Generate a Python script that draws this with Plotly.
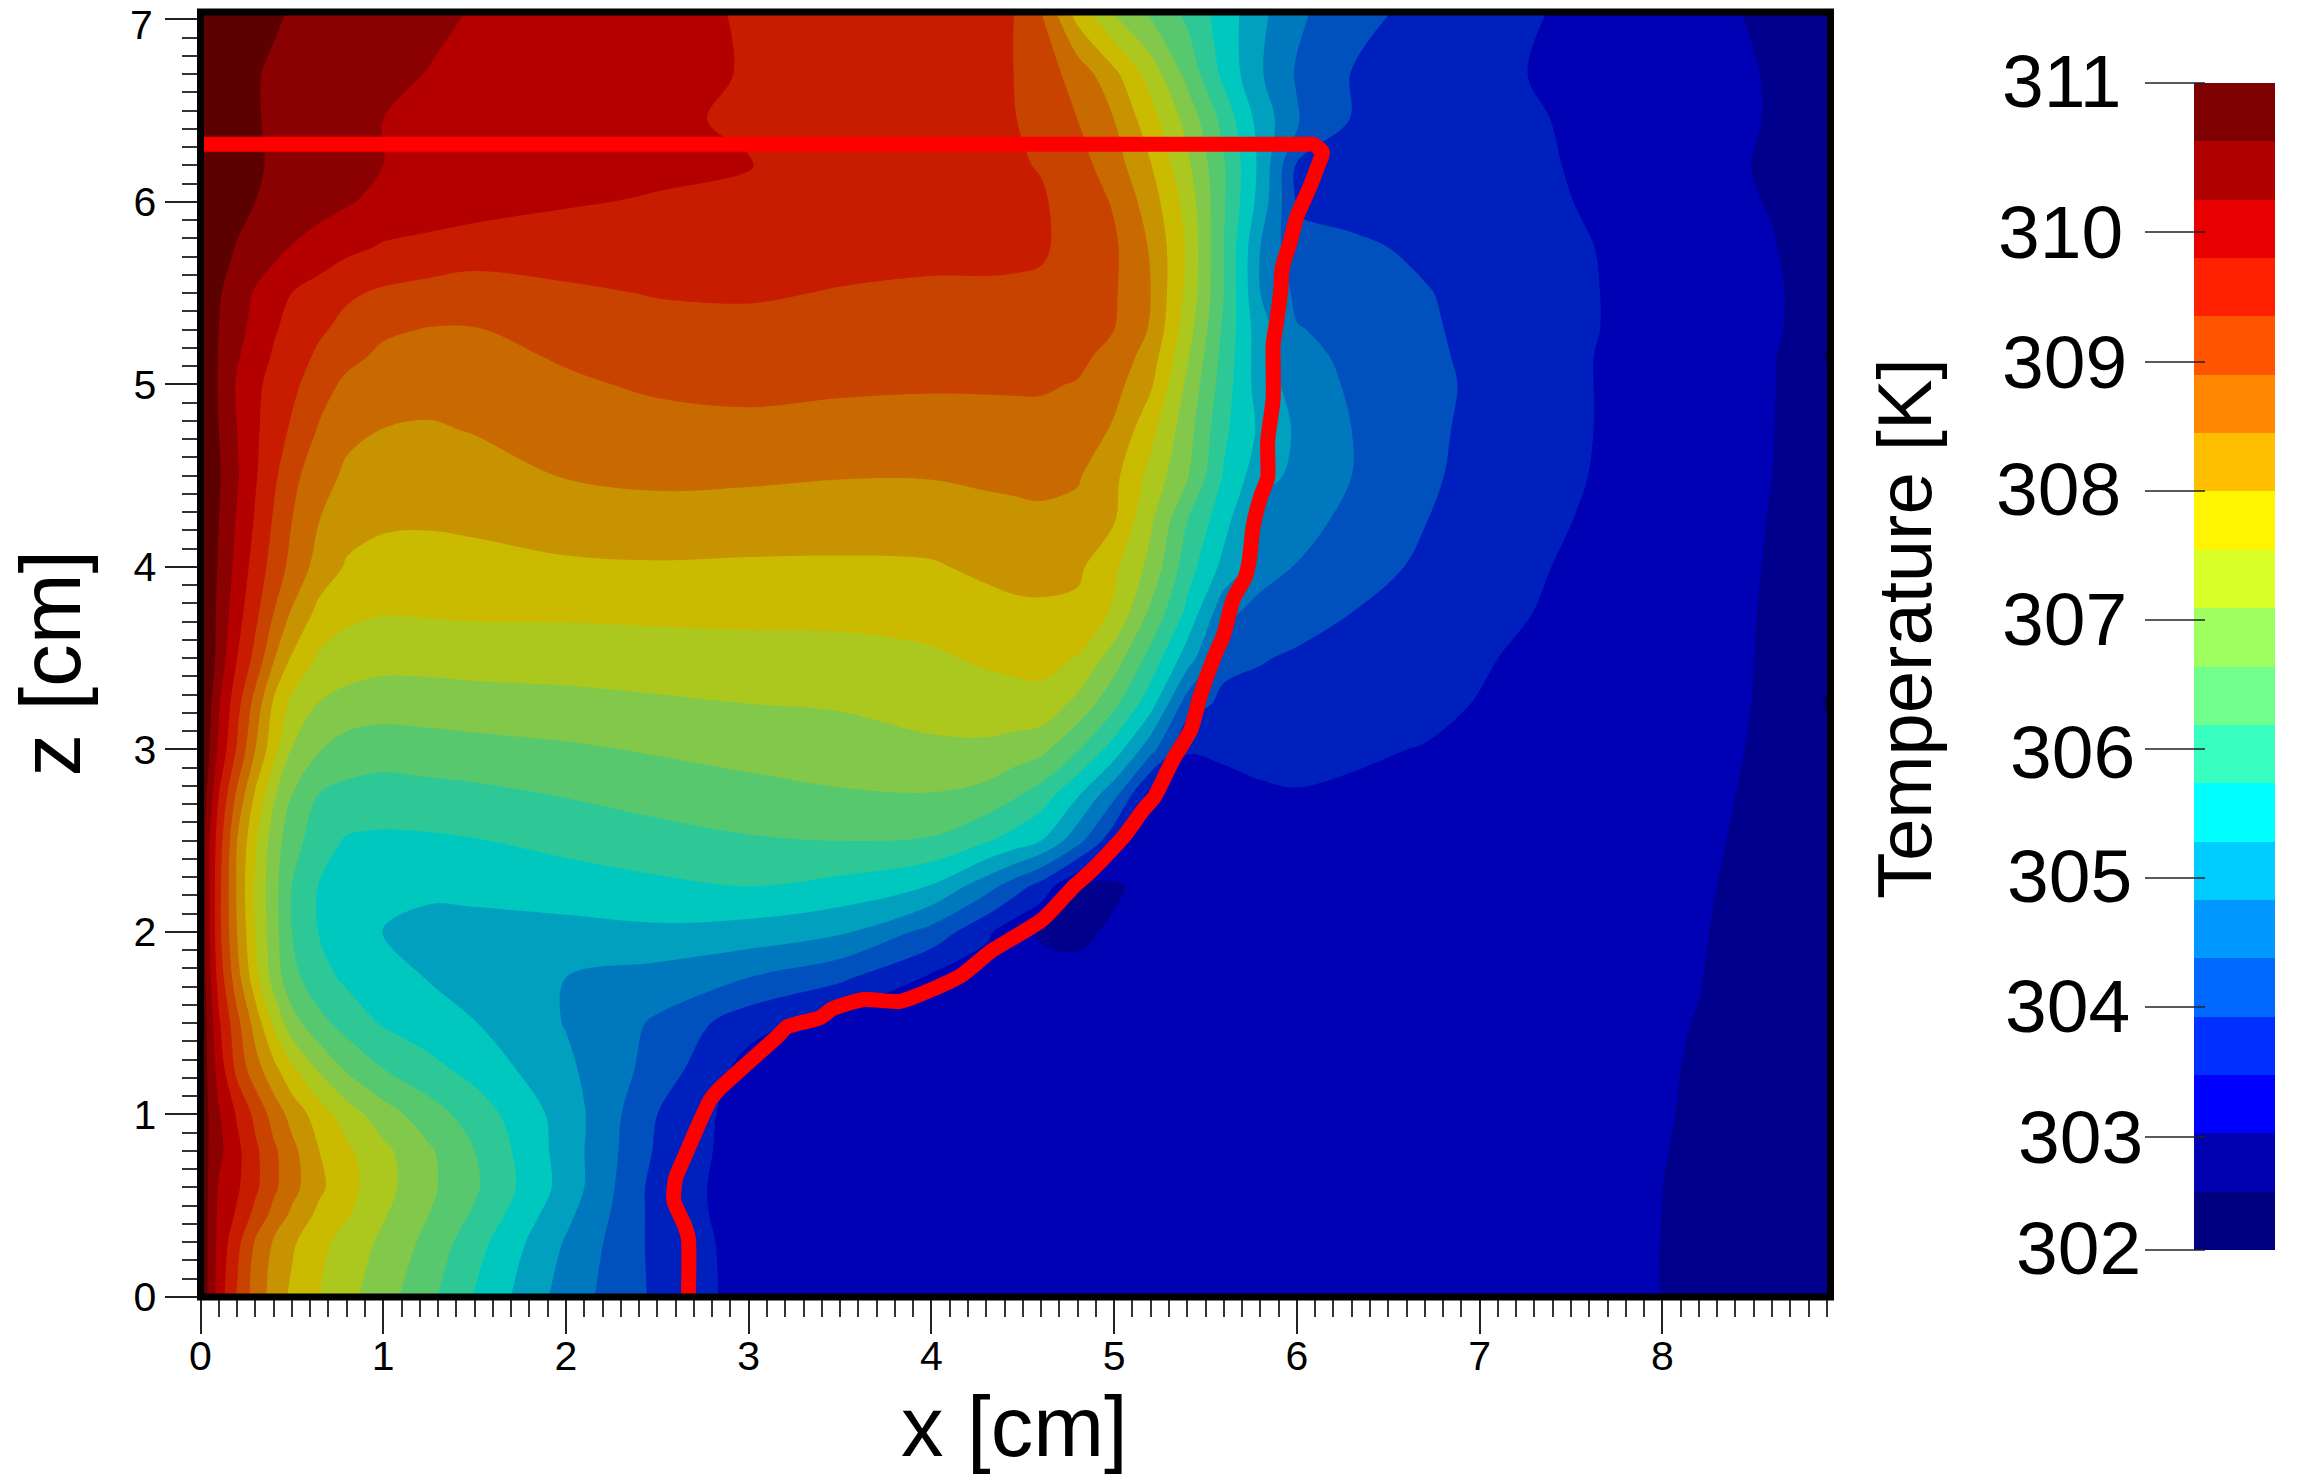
import numpy as np
import plotly.graph_objects as go

# grid positions (cm)
x_cm = [0, .05, .1, .2, .3, .4, .5, .65, .8, 1, 1.25, 1.5, 2, 2.5, 3, 3.5, 4, 4.3, 4.45, 4.6, 4.8, 5, 5.2, 5.4, 5.6, 5.8, 6, 6.3, 6.7, 7.2, 7.7, 8.2, 8.6, 8.92]
z_cm = [0, .3, .45, .6, .8, 1, 1.25, 1.5, 1.75, 2, 2.25, 2.5, 2.75, 3, 3.25, 3.5, 3.75, 4, 4.25, 4.5, 4.75, 5, 5.15, 5.3, 5.5, 5.75, 6, 6.2, 6.45, 6.7, 7.04]

# temperature, in colour-band units (1 unit = 0.45 K above 302 K), one row per z
r00 = [19.9,18.7,17.55,15.9,14.6,13.6,12.8,12.0,11.3,10.4,9.25,7.95,5.55,3.8,2.6,2.55,2.5,2.5,2.45,2.45,2.45,2.4,2.4,2.4,2.35,2.35,2.3,2.3,2.25,2.2,2.2,1.85,1.55,1.3]
r01 = [19.9,18.75,17.7,16.3,14.9,13.9,13.15,12.3,11.6,10.8,9.7,8.4,5.9,3.7,2.6,2.55,2.5,2.5,2.45,2.45,2.45,2.4,2.4,2.4,2.35,2.35,2.3,2.3,2.25,2.25,2.2,1.85,1.55,1.3]
r01b = [19.9,18.75,17.8,16.85,15.7,14.7,13.8,12.75,12.1,11.1,10,8.85,6.25,3.65,2.5,2.5,2.5,2.5,2.45,2.45,2.45,2.4,2.4,2.4,2.35,2.35,2.3,2.3,2.25,2.25,2.2,1.86,1.55,1.3]
r02 = [19.9,18.8,17.9,17.15,16.2,15.2,14.35,13.2,12.35,11.35,10.2,9.15,6.6,3.6,2.5,2.5,2.5,2.5,2.45,2.45,2.45,2.4,2.4,2.4,2.35,2.35,2.3,2.3,2.25,2.25,2.2,1.87,1.55,1.3]
r02b = [19.9,18.85,18.25,17.25,16.2,15.2,14.3,13,12.2,11.25,10.15,9,6.55,3.85,2.45,2.5,2.5,2.5,2.45,2.45,2.45,2.4,2.4,2.4,2.35,2.35,2.3,2.3,2.25,2.25,2.2,1.9,1.58,1.3]
r03 = [19.9,18.85,18.1,16.9,15.75,14.6,13.65,12.5,11.5,10.45,9.45,8.55,6.55,4.0,2.45,2.5,2.5,2.5,2.45,2.45,2.45,2.4,2.4,2.4,2.35,2.35,2.3,2.3,2.25,2.25,2.2,1.93,1.6,1.3]
r04 = [19.9,18.65,17.6,15.7,14.4,13.3,12.2,10.85,9.85,9.0,8.3,7.65,6.2,4.6,2.6,2.5,2.5,2.5,2.45,2.45,2.45,2.4,2.4,2.4,2.35,2.35,2.3,2.3,2.25,2.25,2.2,1.95,1.6,1.3]
r05 = [19.9,18.55,17.15,15.3,13.6,11.85,10.4,9.3,8.6,7.9,7.45,7.03,5.95,4.85,3.4,2.5,2.5,2.5,2.45,2.45,2.45,2.4,2.4,2.4,2.35,2.35,2.3,2.3,2.3,2.25,2.2,1.98,1.65,1.3]
r06 = [19.9,18.2,16.6,14.4,12.4,10.6,9.3,8.35,7.8,7.4,6.95,6.6,6.0,5.6,5.0,4.2,2.85,2.4,2.35,2.3,2.25,2.2,2.25,2.3,2.35,2.35,2.3,2.3,2.3,2.25,2.2,2.02,1.65,1.3]
r07 = [19.9,18,16.3,14,12,10.4,9,7.95,7.5,6.95,6.7,6.7,6.7,6.8,6.6,6.15,4.65,3.2,2.4,1.9,1.8,2.15,2.3,2.4,2.4,2.4,2.4,2.35,2.3,2.25,2.2,2.05,1.7,1.3]
r08 = [19.9,18,16.3,13.9,11.85,10.35,9,7.95,7.6,7.35,7.2,7.25,7.5,7.8,8,7.7,6.95,5.4,4.5,3.6,1.95,1.85,2.35,2.4,2.45,2.5,2.5,2.45,2.4,2.3,2.2,2.08,1.75,1.35]
r09 = [19.9,18,16.5,14,12.15,10.5,9.4,8.45,7.9,7.82,7.85,7.95,8.3,8.6,8.9,9,8.9,8.1,7.6,7.0,5.35,3.3,2.4,2.5,2.5,2.6,2.6,2.55,2.45,2.3,2.2,2.12,1.8,1.35]
r10 = [19.9,18.5,17,14.8,12.85,11.15,10,8.95,8.7,8.55,8.65,8.75,9.05,9.4,9.65,9.9,9.95,9.65,9.15,8.55,7.1,5.25,2.6,2.6,2.7,2.9,2.95,2.85,2.65,2.4,2.25,2.15,1.85,1.35]
r11 = [19.9,19,17.8,15.9,14,12.35,10.95,10.05,9.6,9.45,9.55,9.65,9.85,10.1,10.35,10.5,10.8,10.8,10.55,10.25,9.1,7.55,5.35,3.05,3.15,3.2,3.25,3.15,2.95,2.55,2.25,2.2,1.88,1.4]
r12 = [19.9,19.2,18.1,16.35,14.6,12.85,11.75,10.95,10.6,10.45,10.5,10.6,10.7,10.85,11,11.1,11.4,11.55,11.7,11.75,10.7,9.25,7.4,4.5,3.75,3.75,3.75,3.6,3.3,2.7,2.3,2.2,1.92,.85]
r13 = [19.9,19.6,18.6,17,15.7,14.1,12.9,11.85,11.6,11.35,11.35,11.4,11.45,11.55,11.6,11.65,11.85,12.15,12.2,12.25,11.95,10.5,8.65,6.5,4.3,4.05,3.9,3.75,3.4,2.9,2.4,2.25,1.92,1.35]
r13b = [19.9,19.5,18.75,17.4,16.25,15,13.9,12.7,12.2,12.05,12.1,12.15,12.15,12.2,12.25,12.25,12.4,12.65,12.8,12.85,12.75,11.85,9.8,7.75,5.3,4.6,4.3,4.0,3.6,3.1,2.55,2.27,1.93,1.4]
r14 = [19.9,19.5,18.9,17.7,16.6,15.6,14.7,13.6,12.9,12.6,12.6,12.65,12.85,12.9,12.85,12.85,12.9,13.2,13.3,13.3,13.2,12.2,10.7,8.45,6.7,5.5,4.95,4.45,3.82,3.25,2.6,2.3,1.95,1.4]
r14b = [19.9,19.5,19,17.9,16.9,15.9,15,14,13.35,13.15,13.1,13.2,13.45,13.6,13.55,13.45,13.5,13.7,13.75,13.8,13.7,13.05,11.15,9,7.35,5.5,5.35,4.75,4.02,3.4,2.75,2.33,1.97,1.45]
r15 = [19.9,19.6,19.1,18.1,17.1,16.2,15.3,14.35,13.85,13.55,13.5,13.6,14.05,14.2,14.15,14.05,14.05,14.15,14.2,14.25,14.1,13.25,11.7,10.1,7.9,6.4,5.75,5,4.12,3.55,2.85,2.35,2,1.5]
r15b = [19.9,19.5,19,18,17.15,16.5,15.85,14.9,14.2,13.98,13.9,14.05,14.45,14.65,14.75,14.65,14.6,14.65,14.7,14.7,14.7,13.85,12.3,10.4,8.2,6.8,5.85,5,4.18,3.55,2.9,2.4,2.02,1.5]
r16 = [19.9,19.5,18.9,17.9,17.2,16.7,16.25,15.4,14.8,14.45,14.35,14.45,14.85,15.15,15.25,15.15,15.1,15.1,15.1,15.1,14.95,14.35,13.15,10.8,8.5,6.5,5.6,4.85,4.25,3.55,2.9,2.55,2.05,1.35]
r17 = [19.9,19.5,18.95,18.1,17.45,16.9,16.5,15.8,15.25,14.8,14.65,14.7,15.1,15.4,15.5,15.4,15.3,15.3,15.3,15.3,15.2,14.7,13.5,11.1,8.65,6.45,5.3,4.8,4.18,3.55,2.9,2.55,2.1,.85]
r18 = [19.9,19.5,19,18.3,17.7,17.1,16.7,16.15,15.7,15.15,14.95,14.95,15.4,15.7,15.75,15.65,15.55,15.55,15.55,15.55,15.5,15,13.9,11.45,8.8,6.4,5.05,4.75,4.12,3.55,2.95,2.55,2.15,1.35]
r19 = [19.9,19.5,19.1,18.5,17.9,17.45,17,16.6,16.15,15.85,15.65,15.55,15.85,16.05,16.1,15.95,15.85,15.85,15.85,15.85,15.75,15.1,14,11.75,9,6,4.8,4.5,4.05,3.55,2.95,2.5,2.15,1.45]
r20 = [19.9,19.7,19.35,18.95,18.6,18.3,17.95,17.6,17.25,16.9,16.7,16.48,16.45,16.45,16.4,16.3,16.25,16.25,16.2,16.1,15.7,15.15,13.9,11.85,9,6,4.25,4.15,3.85,3.3,2.95,2.45,2.05,1.5]
r21 = [19.9,19.8,19.6,19.25,19,18.8,18.6,18.35,18.1,17.7,17.6,17.45,17.1,16.9,16.8,16.6,16.5,16.4,16.3,16.1,15.6,14.9,13.5,11.6,9.1,6.6,3.9,3.7,3.55,3.25,2.85,2.3,1.95,1.5]
r22 = [19.9,19.85,19.7,19.4,19.1,18.9,18.75,18.5,18.3,18,17.9,17.75,17.5,17.25,17.03,16.7,16.4,16.25,16.1,15.95,15.4,14.45,13.05,11.2,9.1,6.75,3.9,3.75,3.5,3.2,2.8,2.25,1.9,1.55]
r23 = [19.9,19.85,19.7,19.35,19.05,18.9,18.75,18.5,18.3,18,17.85,17.7,17.35,17.12,16.9,16.55,16.35,16.2,16.05,15.62,15,14,12.4,10.65,8.65,6.6,5.1,3.95,3.6,3.15,2.75,2.3,1.95,1.55]
r24 = [19.9,19.85,19.7,19.4,19.05,18.9,18.8,18.6,18.45,18.2,17.97,17.85,17.6,17.25,16.95,16.65,16.35,16.15,16,15.5,14.6,13.25,11.55,9.7,7.75,6.1,4.9,3.97,3.55,3.05,2.65,2.25,1.95,1.5]
r25 = [19.9,19.9,19.8,19.55,19.3,19.1,18.95,18.8,18.65,18.45,18.2,17.95,17.6,17.25,16.92,16.65,16.35,16.15,16,15,12.55,10.85,9.8,8.75,7.55,6.25,5.2,4.35,3.7,3.15,2.7,2.2,1.85,1.4]

# red interface line
line_x = [0.0, 3.0, 5.6, 6.03, 6.09, 6.14, 6.12, 6.07, 6.0, 5.96, 5.92, 5.91, 5.89, 5.87, 5.87, 5.87, 5.84, 5.84, 5.8, 5.76, 5.74, 5.72, 5.65, 5.6, 5.54, 5.47, 5.42, 5.32, 5.22, 5.16, 5.05, 4.88, 4.78, 4.61, 4.32, 4.16, 3.83, 3.63, 3.46, 3.39, 3.21, 3.16, 2.85, 2.79, 2.65, 2.6, 2.59, 2.65, 2.67, 2.67]
line_z = [6.315, 6.315, 6.315, 6.315, 6.315, 6.27, 6.21, 6.08, 5.92, 5.77, 5.64, 5.5, 5.35, 5.22, 5.1, 4.92, 4.69, 4.49, 4.38, 4.22, 4.04, 3.95, 3.82, 3.63, 3.49, 3.29, 3.11, 2.94, 2.74, 2.67, 2.52, 2.34, 2.25, 2.07, 1.89, 1.76, 1.62, 1.63, 1.58, 1.53, 1.48, 1.43, 1.15, 1.08, .77, .65, .53, .39, .32, 0]

# colours: field (dimmed) and colour bar (bright), coldest band first
field_colors = ["#000064", "#00008C", "#0000B4", "#0020BE", "#0050BE", "#0078BE", "#00A0BE", "#00C8BE", "#2EC896", "#58C86E",
                "#82C84B", "#ACC81E", "#CBBB00", "#C89300", "#C86A00", "#C84200", "#C81C00", "#B50000", "#8B0000", "#5C0000"]
bar_colors = ["#000080", "#0000B0", "#0000FF", "#0030FF", "#0068FF", "#0098FF", "#00CCFF", "#00FFFF", "#38FFC0", "#70FF8C",
              "#A0FF60", "#D8FF28", "#FFF500", "#FFBF00", "#FF8800", "#FF5500", "#FF2000", "#E80000", "#B00000", "#7F0000"]
bar_labels = ["311", "310", "309", "308", "307", "306", "305", "304", "303", "302"]
label_px_x = [2062, 2060, 2064, 2058, 2064, 2072, 2069, 2067, 2080, 2078]
label_px_y = [81, 232, 362, 489, 619, 752, 876, 1006, 1137, 1248]
tick_px_y = [83, 232, 362, 491, 620, 749, 878, 1007, 1137, 1250]
z_tick_vals = [0, 1, 2, 3, 4, 5, 6, 7]
z_tick_text = ["0", "1", "2", "3", "4", "5", "6", ""]

W, H = 2298, 1475
def px(v): return v / W
def py(v): return 1 - v / H

def stepped(colors):
    n = len(colors)
    out = []
    for i, c in enumerate(colors):
        out += [[i / n, c], [(i + 1) / n, c]]
    return out

rows = [r00, r01, r01b, r02, r02b, r03, r04, r05, r06, r07, r08, r09, r10, r11, r12, r13, r13b, r14, r14b, r15, r15b,
        r16, r17, r18, r19, r20, r21, r22, r23, r24, r25]
temperature = 302 + 0.45 * np.array(rows)
bar_edges = [302 + 0.45 * i for i in range(21)]
bar_z = [[302 + 0.45 * (i + 0.5)] for i in range(20)]

fig = go.Figure()
fig.add_trace(go.Contour(
    x=x_cm, y=z_cm, z=temperature, zmin=302, zmax=311, autocontour=False,
    contours=dict(start=302.45, end=310.56, size=0.45, coloring="fill", showlines=False),
    colorscale=stepped(field_colors), showscale=False, hoverinfo="skip",
    line=dict(width=0, smoothing=1.0),
))
fig.add_trace(go.Scatter(
    x=line_x, y=line_z, mode="lines", hoverinfo="skip", showlegend=False,
    line=dict(color="#FF0000", width=15, shape="spline", smoothing=0.6),
))
fig.add_trace(go.Heatmap(
    x=[0, 1], y=bar_edges, z=bar_z, xaxis="x2", yaxis="y2", zmin=302, zmax=311,
    colorscale=stepped(bar_colors), showscale=False, hoverinfo="skip",
))

big = "Liberation Sans, Arial, sans-serif"
tick_font = dict(family=big, size=41, color="black")
fig.update_layout(
    width=W, height=H, autosize=False, margin=dict(l=0, r=0, t=0, b=0, autoexpand=False),
    paper_bgcolor="white", plot_bgcolor="white", showlegend=False,
    xaxis=dict(domain=[px(200.5), px(1830.5)], range=[0, 8.92], tick0=0, dtick=1, ticks="outside",
               ticklen=36, tickwidth=2, tickcolor="#222", tickfont=tick_font, showgrid=False, zeroline=False,
               showline=False, anchor="y", ticklabelstandoff=-13, ticklabeloverflow="allow",
               minor=dict(dtick=0.1, tick0=0, ticks="outside", ticklen=19, tickwidth=1.5, tickcolor="#333", showgrid=False)),
    yaxis=dict(domain=[py(1297), py(12)], range=[0, 7.04], tickmode="array", tickvals=z_tick_vals, ticktext=z_tick_text,
               ticks="outside", ticklen=35, tickwidth=2, tickcolor="#222", tickfont=tick_font, showgrid=False,
               zeroline=False, showline=False, anchor="x", ticklabeloverflow="allow",
               minor=dict(dtick=0.1, tick0=0, ticks="outside", ticklen=18, tickwidth=1.5, tickcolor="#333", showgrid=False)),
    xaxis2=dict(domain=[px(2194), px(2275)], range=[0, 1], visible=False, anchor="y2"),
    yaxis2=dict(domain=[py(1250), py(83)], range=[302, 311], visible=False, anchor="x2"),
)

shapes = [dict(type="rect", xref="paper", yref="paper", x0=px(200.5), x1=px(1830.5), y0=py(1297), y1=py(12),
               line=dict(color="black", width=7), fillcolor="rgba(0,0,0,0)", layer="above")]
for y in tick_px_y:
    shapes.append(dict(type="line", xref="paper", yref="paper", x0=px(2145), x1=px(2205), y0=py(y), y1=py(y),
                       line=dict(color="#222", width=1.5), layer="above"))

annotations = [
    dict(text="x [cm]", x=px(1014), y=py(1426), font=dict(family=big, size=85, color="black"), textangle=0),
    dict(text="z [cm]", x=px(49.5), y=py(663), font=dict(family=big, size=85, color="black"), textangle=-90),
    dict(text="Temperature [K]", x=px(1905), y=py(629), font=dict(family=big, size=76, color="black"), textangle=-90),
    dict(text="7", x=px(155), y=py(25), font=tick_font, textangle=0, xanchor="right"),
]
for t, lx, ly in zip(bar_labels, label_px_x, label_px_y):
    annotations.append(dict(text=t, x=px(lx), y=py(ly), font=dict(family=big, size=75, color="black"), textangle=0))
for a in annotations:
    a.setdefault("xanchor", "center")
    a.update(xref="paper", yref="paper", yanchor="middle", showarrow=False)

fig.update_layout(shapes=shapes, annotations=annotations)
fig.write_html("out.html", config={"displayModeBar": False},
               post_script="document.body.style.margin='0';document.body.style.overflow='hidden';")
